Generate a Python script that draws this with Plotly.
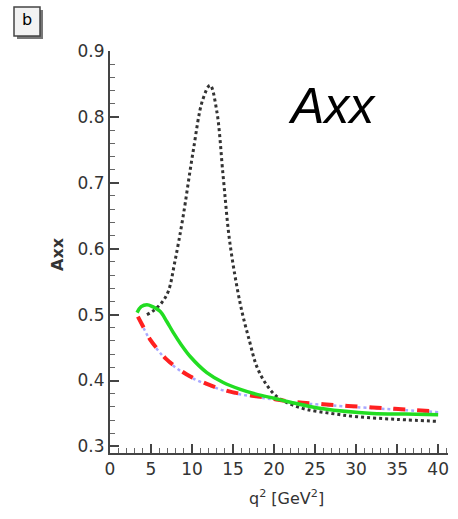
import plotly.graph_objects as go

# Black dotted curve
black_x = [4.5, 5.3, 6.3, 7.1, 7.9, 8.9, 10.1, 11.3, 12.2, 13.0, 13.8, 14.6, 15.9, 17.0, 17.9, 19.0, 20.3, 22.0, 24.0, 27.0, 30.1, 35.0, 40.0]
black_y = [0.500, 0.506, 0.518, 0.535, 0.580, 0.648, 0.745, 0.826, 0.848, 0.810, 0.709, 0.610, 0.515, 0.460, 0.421, 0.395, 0.376, 0.364, 0.356, 0.350, 0.345, 0.341, 0.338]

# Green solid curve
green_x = [3.3, 3.8, 4.5, 5.2, 6.1, 6.9, 7.7, 8.7, 9.8, 11.8, 13.8, 15.8, 17.9, 20.0, 22.0, 26.0, 32.0, 36.0, 40.0]
green_y = [0.503, 0.512, 0.515, 0.512, 0.505, 0.490, 0.473, 0.454, 0.436, 0.412, 0.397, 0.387, 0.379, 0.373, 0.367, 0.357, 0.350, 0.349, 0.348]

# Red dashed curve
red_x = [3.4, 4.2, 4.9, 5.9, 6.9, 8.3, 9.8, 11.8, 13.8, 15.8, 17.9, 20.0, 22.0, 26.0, 32.0, 36.0, 40.0]
red_y = [0.497, 0.478, 0.462, 0.446, 0.432, 0.418, 0.406, 0.395, 0.386, 0.380, 0.376, 0.372, 0.368, 0.364, 0.359, 0.356, 0.353]

# Blue dotted curve (beneath red)
blue_x = red_x
blue_y = [0.496, 0.477, 0.461, 0.445, 0.431, 0.417, 0.405, 0.394, 0.385, 0.379, 0.375, 0.371, 0.367, 0.363, 0.358, 0.355, 0.352]

x_ticks = [0, 5, 10, 15, 20, 25, 30, 35, 40]
y_ticks = [0.3, 0.4, 0.5, 0.6, 0.7, 0.8, 0.9]

fig = go.Figure()
fig.add_trace(go.Scatter(x=black_x, y=black_y, mode="lines", line=dict(color="#333333", width=3, dash="dot", shape="spline")))
fig.add_trace(go.Scatter(x=blue_x, y=blue_y, mode="lines", line=dict(color="#a8a8ff", width=2.5, dash="dot", shape="spline")))
fig.add_trace(go.Scatter(x=red_x, y=red_y, mode="lines", line=dict(color="#ff2020", width=4, dash="dash", shape="spline")))
fig.add_trace(go.Scatter(x=green_x, y=green_y, mode="lines", line=dict(color="#22dd22", width=3.5, shape="spline")))

font = "DejaVu Sans, Liberation Sans, sans-serif"
ifont = "Liberation Sans, Arial, sans-serif"
L, R, T, B = 110, 448, 51, 453
W, H = R - L, B - T

def px(x):
    return (x - L) / W

def py(y):
    return (B - y) / H

fig.update_layout(
    width=458, height=519,
    margin=dict(l=L, r=458 - R, t=T, b=519 - B),
    paper_bgcolor="white", plot_bgcolor="white",
    showlegend=False,
    font=dict(family=font, size=17, color="#333333"),
    xaxis=dict(range=[0, 41.2], tickvals=x_ticks, ticks="inside", ticklen=9, tickwidth=1.5,
               tickcolor="#444444", showline=True, linecolor="#444444", linewidth=2,
               showgrid=False, zeroline=False,
               minor=dict(dtick=1, ticks="inside", ticklen=5, tickcolor="#666666", tickwidth=1)),
    yaxis=dict(range=[0.29, 0.9], tickvals=y_ticks, tickformat=".1f", ticks="inside", ticklen=9, tickwidth=1.5,
               tickcolor="#444444", showline=True, linecolor="#444444", linewidth=2,
               showgrid=False, zeroline=False,
               minor=dict(dtick=0.02, ticks="inside", ticklen=5, tickcolor="#666666", tickwidth=1)),
)

def label(x, y, text, size, color="#333333", angle=0, family=font):
    fig.add_annotation(xref="paper", yref="paper", x=px(x), y=py(y), text=text, textangle=angle,
                       showarrow=False, xanchor="center", yanchor="middle",
                       font=dict(family=family, size=size, color=color))

# axis titles
label(286, 497, "q<sup>2</sup> [GeV<sup>2</sup>]", 16)
label(57, 254, "<b>Axx</b>", 16, angle=-90)

# big italic label
label(332, 106, "<i>Axx</i>", 50, color="black", family=ifont)

# "b" panel label box with shadow
fig.add_shape(type="rect", xref="paper", yref="paper", x0=px(17), x1=px(43), y0=py(39), y1=py(10),
              line=dict(width=0), fillcolor="#777777")
fig.add_shape(type="rect", xref="paper", yref="paper", x0=px(14), x1=px(40), y0=py(36), y1=py(7),
              line=dict(color="#444444", width=1.5), fillcolor="#f2f2f2")
label(27, 20, "b", 16, color="black")

fig.write_html("out.html", post_script="document.body.style.margin='0px';",
               config={"displayModeBar": False})
